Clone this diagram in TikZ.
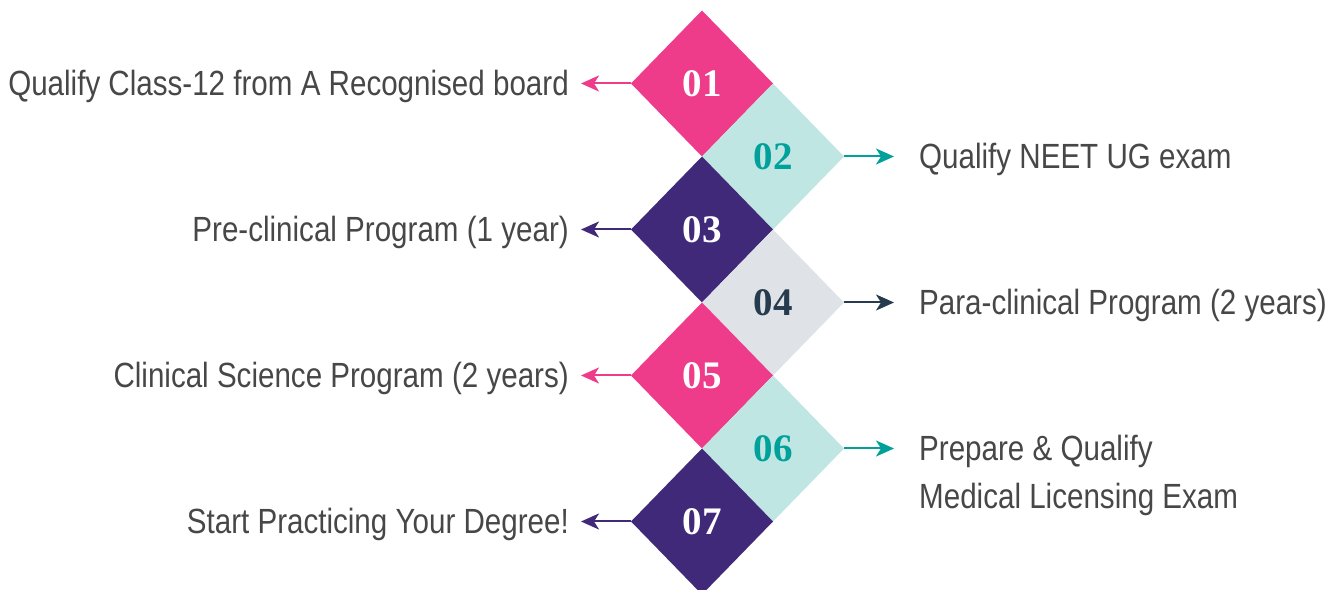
\documentclass[tikz,border=0pt]{standalone}
\usepackage{fontspec}
\setmainfont{Liberation Sans}[FakeStretch=0.845]
\newfontfamily\numfont{Liberation Serif}
\usetikzlibrary{arrows.meta}
\usetikzlibrary{shapes.geometric}
\usetikzlibrary{positioning}

\definecolor{pinkstep}{HTML}{EE3B8A}
\definecolor{tealstep}{HTML}{C0E6E4}
\definecolor{tealtext}{HTML}{00A19A}
\definecolor{purplestep}{HTML}{41297A}
\definecolor{greystep}{HTML}{DFE2E6}
\definecolor{navytext}{HTML}{263B4D}
\definecolor{labeltext}{HTML}{474747}

\begin{document}
\begin{tikzpicture}[x=1pt, y=1pt,
  stepbox/.style={shape=diamond, minimum width=142pt, minimum height=146pt,
    inner sep=0pt, outer sep=0pt,
    font=\numfont\bfseries\fontsize{39}{39}\selectfont},
  pointer/.style={line width=2pt, -{Stealth[length=18pt, width=16pt, inset=5pt]}},
  label/.style={text=labeltext, inner sep=0pt, text height=25pt, text depth=0pt,
    font=\fontsize{35}{48}\selectfont}]
\useasboundingbox (0,0) rectangle (1341,589);

\node[stepbox, fill=pinkstep, text=white] (d01) at (702,505.5) {01};
\node[stepbox, fill=tealstep, text=tealtext, anchor=west] (d02) at (d01.south) {02};
\node[stepbox, fill=purplestep, text=white, anchor=north] (d03) at (d02.west) {03};
\node[stepbox, fill=greystep, text=navytext, anchor=west] (d04) at (d03.south) {04};
\node[stepbox, fill=pinkstep, text=white, anchor=north] (d05) at (d04.west) {05};
\node[stepbox, fill=tealstep, text=tealtext, anchor=west] (d06) at (d05.south) {06};
\node[stepbox, fill=purplestep, text=white, anchor=north] (d07) at (d06.west) {07};

% arrows out of the steps
\coordinate[left=50pt of d01.west] (a01);
\coordinate[right=50pt of d02.east] (a02);
\coordinate[left=50pt of d03.west] (a03);
\coordinate[right=50pt of d04.east] (a04);
\coordinate[left=50pt of d05.west] (a05);
\coordinate[right=50pt of d06.east] (a06);
\coordinate[left=50pt of d07.west] (a07);
\draw[pointer, pinkstep] (d01.west) -- (a01);
\draw[pointer, tealtext] (d02.east) -- (a02);
\draw[pointer, purplestep] (d03.west) -- (a03);
\draw[pointer, navytext] (d04.east) -- (a04);
\draw[pointer, pinkstep] (d05.west) -- (a05);
\draw[pointer, tealtext] (d06.east) -- (a06);
\draw[pointer, purplestep] (d07.west) -- (a07);

\node[label, left=12pt of a01] (t01) {Qualify Class-12 from A Recognised board};
\node[label, right=25pt of a02] (t02) {Qualify NEET UG exam};
\node[label, left=12pt of a03] (t03) {Pre-clinical Program (1 year)};
\node[label, right=25pt of a04] (t04) {Para-clinical Program (2 years)};
\node[label, left=12pt of a05] (t05) {Clinical Science Program (2 years)};
\node[label, right=25pt of a06, anchor=base west, yshift=-60.5pt, align=left,
  text height=, text depth=] (t06) {Prepare \& Qualify\\Medical Licensing Exam};
\node[label, left=12pt of a07] (t07) {Start Practicing Your Degree!};
\end{tikzpicture}
\end{document}
